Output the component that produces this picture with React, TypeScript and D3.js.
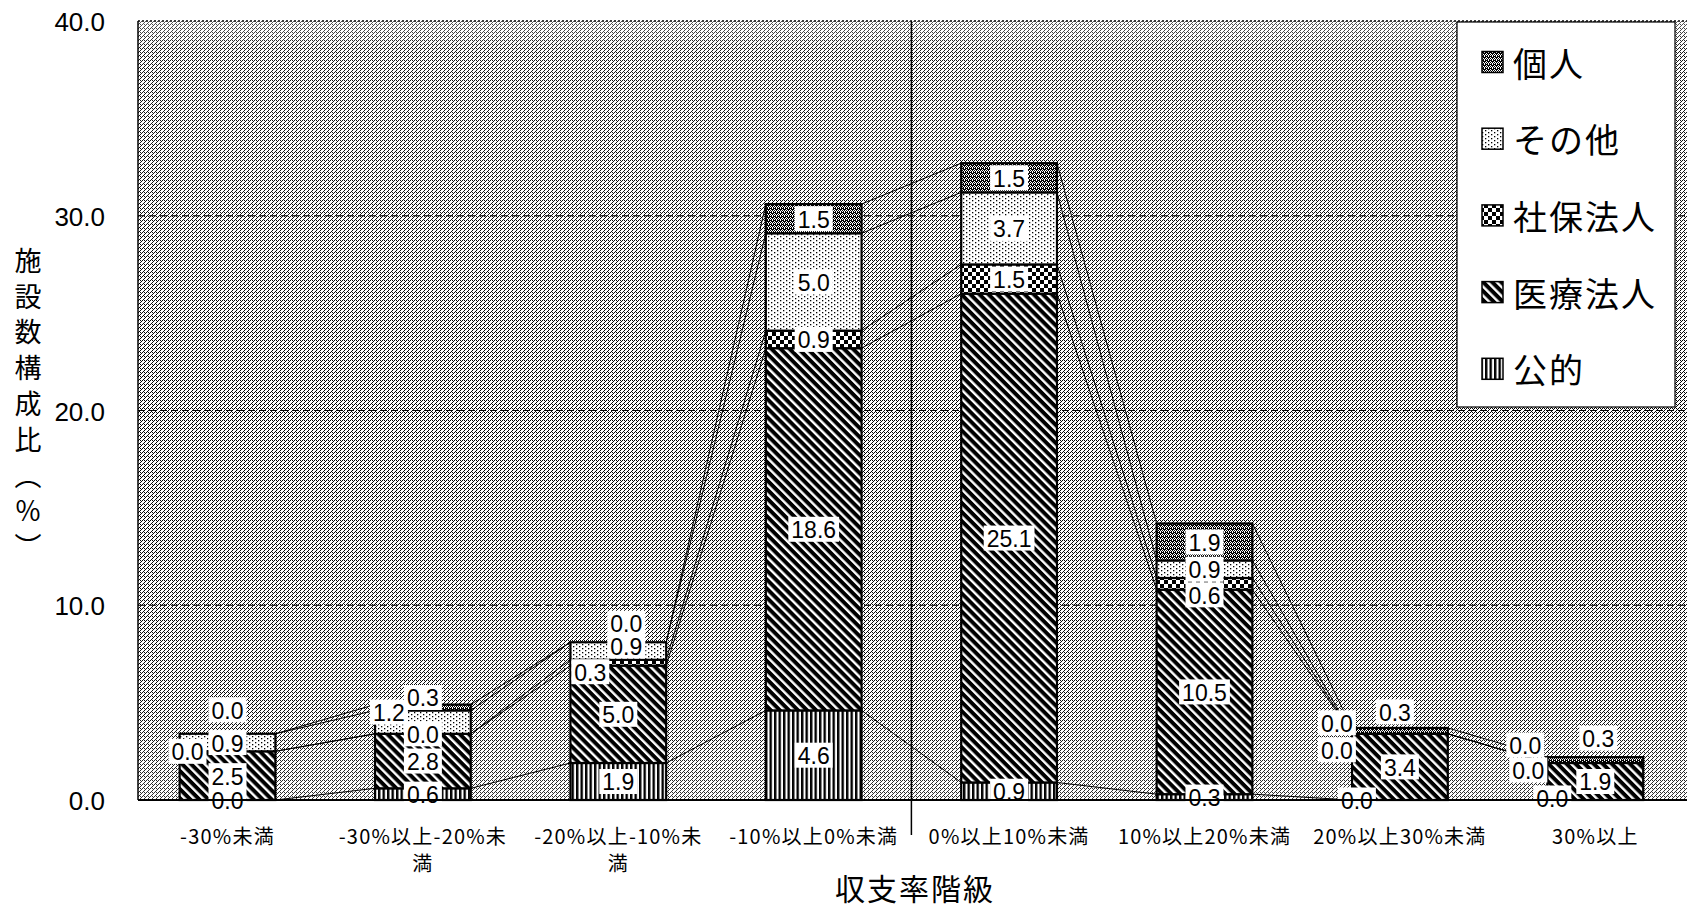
import React from "react";
import * as d3 from "d3";

// ---- data ----
const categories = [
  "-30%未満",
  "-30%以上-20%未満",
  "-20%以上-10%未満",
  "-10%以上0%未満",
  "0%以上10%未満",
  "10%以上20%未満",
  "20%以上30%未満",
  "30%以上",
];
const tickLabelLines = [
  ["-30%未満"],
  ["-30%以上-20%未", "満"],
  ["-20%以上-10%未", "満"],
  ["-10%以上0%未満"],
  ["0%以上10%未満"],
  ["10%以上20%未満"],
  ["20%以上30%未満"],
  ["30%以上"],
];
const seriesNames = ["公的", "医療法人", "社保法人", "その他", "個人"];
const koteki = [0.0, 0.6, 1.9, 4.6, 0.9, 0.3, 0.0, 0.0];
const iryo = [2.5, 2.8, 5.0, 18.6, 25.1, 10.5, 3.4, 1.9];
const shaho = [0.0, 0.0, 0.3, 0.9, 1.5, 0.6, 0.0, 0.0];
const sonota = [0.9, 1.2, 0.9, 5.0, 3.7, 0.9, 0.0, 0.0];
const kojin = [0.0, 0.3, 0.0, 1.5, 1.5, 1.9, 0.3, 0.3];
const yTicks = [0, 10, 20, 30, 40];
const yTitle = "施設数構成比（％）";
const xTitle = "収支率階級";

// ---- layout ----
const W = 1687;
const H = 905;
const PLOT_L = 138;
const PLOT_R = 1687;
const PLOT_T = 21;
const PLOT_B = 800;
const patternIds = ["pKoteki", "pIryo", "pShaho", "pSonota", "pKojin"];
// manual label nudges [category, series, dx, dy]
const labelNudges: [number, number, number, number][] = [
  [0, 2, -40, 0],
  [0, 4, 0, -24],
  [1, 3, -34, -10],
  [1, 4, 0, -10],
  [2, 2, -28, 9],
  [2, 3, 8, -5],
  [2, 4, 8, -19],
  [5, 2, 0, 11],
  [6, 0, -43, 0],
  [6, 2, -63, 16],
  [6, 3, -63, -11],
  [6, 4, -5, -19],
  [7, 0, -43, -2],
  [7, 2, -67, 7],
  [7, 3, -70, -18],
  [7, 4, 3, -22],
];

const NUM_FONT = "'Liberation Sans', Arial, sans-serif";
const JP_FONT = "'Noto Sans CJK JP', sans-serif";

export default function App() {
  const seriesValues = [koteki, iryo, shaho, sonota, kojin];
  const table = categories.map((c, i) => {
    const row: any = { cat: c };
    seriesNames.forEach((s, k) => (row[s] = seriesValues[k][i]));
    return row;
  });
  const stacked = d3.stack<any>().keys(seriesNames)(table);

  const x = d3
    .scaleBand<string>()
    .domain(categories)
    .range([129.8, 1693])
    .paddingInner(0.51)
    .paddingOuter(0.255);
  const bw = x.bandwidth();
  const y = d3.scaleLinear().domain([0, 40]).range([PLOT_B, PLOT_T]);
  const fmt = d3.format(".1f");

  const nudge = (i: number, s: number) => {
    const n = labelNudges.find((d) => d[0] === i && d[1] === s);
    return n ? [n[2], n[3]] : [0, 0];
  };

  const textW = (t: string) =>
    t.split("").reduce((a, ch) => a + (ch === "." ? 6.4 : 12.8), 0);

  const divX = (x(categories[3])! + bw + x(categories[4])!) / 2;

  return (
    <svg
      width={W}
      height={H}
      style={{ position: "absolute", left: 0, top: 0, display: "block", background: "#fff" }}
    >
      <defs>
        <pattern id="bg" width="4" height="4" patternUnits="userSpaceOnUse">
          <rect width="4" height="4" fill="#fff" />
          <rect x="0" y="0" width="1" height="1" fill="#000" />
          <rect x="2" y="0" width="1" height="1" fill="#000" />
          <rect x="1" y="1" width="1" height="1" fill="#000" />
          <rect x="0" y="2" width="1" height="1" fill="#000" />
          <rect x="3" y="3" width="1" height="1" fill="#000" />
        </pattern>
        <linearGradient id="bgFade" x1="0" y1="0" x2="0" y2="1">
          <stop offset="0" stopColor="#fff" stopOpacity="0.35" />
          <stop offset="0.04" stopColor="#fff" stopOpacity="0.1" />
          <stop offset="0.5" stopColor="#fff" stopOpacity="0" />
          <stop offset="0.88" stopColor="#fff" stopOpacity="0.05" />
          <stop offset="1" stopColor="#fff" stopOpacity="0.2" />
        </linearGradient>
        <pattern id="pKoteki" width="4.5" height="4" patternUnits="userSpaceOnUse">
          <rect width="4.5" height="4" fill="#fff" />
          <rect x="0" y="0" width="2.4" height="4" fill="#000" />
        </pattern>
        <pattern
          id="pIryo"
          width="6.4"
          height="6.4"
          patternUnits="userSpaceOnUse"
          patternTransform="rotate(-45)"
        >
          <rect width="6.4" height="6.4" fill="#000" />
          <rect x="0" y="0" width="2.4" height="6.4" fill="#fff" />
        </pattern>
        <pattern id="pShaho" width="8" height="8" patternUnits="userSpaceOnUse">
          <rect width="8" height="8" fill="#fff" />
          <rect x="0" y="0" width="4" height="4" fill="#000" />
          <rect x="4" y="4" width="4" height="4" fill="#000" />
        </pattern>
        <pattern id="pSonota" width="6" height="4" patternUnits="userSpaceOnUse">
          <rect width="6" height="4" fill="#fff" />
          <rect x="0" y="0" width="1.3" height="1.3" fill="#000" />
          <rect x="3" y="2" width="1.3" height="1.3" fill="#000" />
        </pattern>
        <pattern id="pKojin" width="4" height="4" patternUnits="userSpaceOnUse">
          <rect width="4" height="4" fill="#000" />
          <rect x="0" y="0" width="1" height="1" fill="#fff" />
          <rect x="2" y="1" width="1" height="1" fill="#fff" />
          <rect x="1" y="2" width="1" height="1" fill="#fff" />
          <rect x="3" y="2" width="1" height="1" fill="#fff" />
          <rect x="0" y="3" width="1" height="1" fill="#fff" />
          <rect x="2" y="3" width="1" height="1" fill="#fff" />
        </pattern>
      </defs>

      {/* plot background */}
      <rect
        x={PLOT_L}
        y={PLOT_T}
        width={PLOT_R - PLOT_L}
        height={PLOT_B - PLOT_T}
        fill="url(#bg)"
        shapeRendering="crispEdges"
      />
      <rect
        x={PLOT_L}
        y={PLOT_T}
        width={PLOT_R - PLOT_L}
        height={PLOT_B - PLOT_T}
        fill="url(#bgFade)"
      />
      {/* gridlines */}
      {yTicks
        .filter((t) => t > 0 && t < 40)
        .map((t) => (
          <line
            key={"g" + t}
            x1={PLOT_L}
            x2={PLOT_R}
            y1={y(t)}
            y2={y(t)}
            stroke="#000"
            strokeWidth={1.2}
            strokeDasharray="7,4"
          />
        ))}
      <line
        x1={PLOT_L}
        x2={PLOT_R}
        y1={PLOT_T}
        y2={PLOT_T}
        stroke="#000"
        strokeWidth={1.5}
        strokeDasharray="2,2"
      />

      {/* divider */}
      <line x1={divX} x2={divX} y1={PLOT_T} y2={835} stroke="#000" strokeWidth={1.5} />

      {/* series lines */}
      {stacked.map((layer, s) =>
        categories.slice(0, -1).map((c, i) => (
          <line
            key={"sl" + s + "-" + i}
            x1={x(c)! + bw}
            y1={y(layer[i][1])}
            x2={x(categories[i + 1])!}
            y2={y(layer[i + 1][1])}
            stroke="#000"
            strokeWidth={1}
          />
        ))
      )}

      {/* bars */}
      {stacked.map((layer, s) =>
        layer.map((d, i) => {
          const h = y(d[0]) - y(d[1]);
          if (h <= 0) return null;
          return (
            <rect
              key={"b" + s + "-" + i}
              x={x(categories[i])!}
              y={y(d[1])}
              width={bw}
              height={h}
              fill={`url(#${patternIds[s]})`}
              stroke="#000"
              strokeWidth={2.2}
            />
          );
        })
      )}

      {/* data labels */}
      {stacked.map((layer, s) =>
        layer.map((d, i) => {
          const v = seriesValues[s][i];
          const t = fmt(v);
          const [dx, dy] = nudge(i, s);
          const cx = x(categories[i])! + bw / 2 + dx;
          const cy = (y(d[0]) + y(d[1])) / 2 + dy;
          const tw = textW(t) + 6;
          return (
            <g key={"l" + s + "-" + i}>
              <rect x={cx - tw / 2} y={cy - 12.5} width={tw} height={25} fill="#fff" />
              <text
                x={cx}
                y={cy + 1}
                textAnchor="middle"
                dominantBaseline="central"
                fontFamily={NUM_FONT}
                fontSize={23}
                fill="#000"
              >
                {t}
              </text>
            </g>
          );
        })
      )}

      {/* axes */}
      <line x1={PLOT_L} x2={PLOT_L} y1={PLOT_T} y2={PLOT_B} stroke="#000" strokeWidth={1.5} />
      <line x1={PLOT_L} x2={PLOT_R} y1={PLOT_B} y2={PLOT_B} stroke="#000" strokeWidth={2} />
      {yTicks.map((t) => (
        <text
          key={"yt" + t}
          x={105}
          y={y(t) + 1}
          textAnchor="end"
          dominantBaseline="central"
          fontFamily={NUM_FONT}
          fontSize={26}
          fill="#000"
        >
          {fmt(t)}
        </text>
      ))}
      {tickLabelLines.map((lines, i) =>
        lines.map((ln, j) => (
          <text
            key={"xt" + i + "-" + j}
            x={x(categories[i])! + bw / 2}
            y={835 + j * 27}
            textAnchor="middle"
            dominantBaseline="central"
            fontFamily={JP_FONT}
            fontSize={20}
            letterSpacing={1.2}
            fill="#000"
          >
            {ln}
          </text>
        ))
      )}
      <text
        x={915}
        y={887}
        textAnchor="middle"
        dominantBaseline="central"
        fontFamily={JP_FONT}
        fontSize={30}
        letterSpacing={2}
        fill="#000"
      >
        {xTitle}
      </text>
      <text
        x={28}
        y={247}
        fontFamily={JP_FONT}
        fontSize={27}
        letterSpacing={8.8}
        fill="#000"
        style={{ writingMode: "vertical-rl" } as any}
      >
        {yTitle}
      </text>

      {/* legend */}
      <rect x={1457} y={22} width={218} height={385} fill="#fff" stroke="#000" strokeWidth={1.2} />
      {seriesNames
        .slice()
        .reverse()
        .map((name, j) => {
          const s = seriesNames.length - 1 - j;
          const cy = 62 + j * 76.7;
          return (
            <g key={"lg" + name}>
              <rect
                x={1482}
                y={cy - 10.5}
                width={21}
                height={21}
                fill={`url(#${patternIds[s]})`}
                stroke="#000"
                strokeWidth={1.5}
              />
              <text
                x={1513}
                y={cy}
                dominantBaseline="central"
                fontFamily={JP_FONT}
                fontSize={34}
                letterSpacing={2}
                fill="#000"
              >
                {name}
              </text>
            </g>
          );
        })}
    </svg>
  );
}
